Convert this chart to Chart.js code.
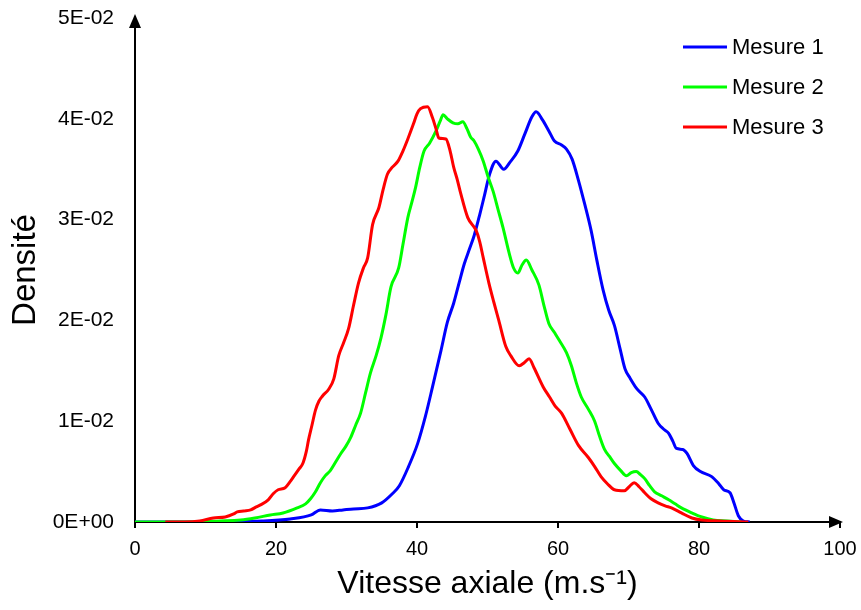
<!DOCTYPE html>
<html>
<head>
<meta charset="utf-8">
<script src="https://cdn.jsdelivr.net/npm/chart.js@4"></script>
<style>
  body { margin: 0; background: #fff; }
</style>
</head>
<body>
<canvas id="densiteGrafico" width="861" height="610"></canvas>
<script>
    const seriesNames = ['Mesure 1', 'Mesure 2', 'Mesure 3'];
    const seriesColors = ['#0000ff', '#00ff00', '#ff0000'];

    const yTickLabels = ['0E+00', '1E-02', '2E-02', '3E-02', '4E-02', '5E-02'];

    // Mesure 1
    const vitesse1 = [0, 10, 18, 22, 25, 26.3, 28, 29.5, 31, 33, 35, 36.5, 37.5, 38.8, 40.1, 41.2, 42.2, 43.4, 44.3, 45.2,
        46, 46.7, 47.4, 48.1, 48.9, 49.5, 50.3, 51.2, 52.3, 53.2, 54.3, 55.3, 56.3, 56.9, 57.8, 58.7, 59.5, 60.5, 61.2, 62,
        62.9, 63.8, 64.7, 65.5, 66.4, 67.2, 68, 68.8, 69.5, 70.2, 71.2, 72.3, 73.2, 74.2, 75, 75.7, 76.3, 76.8, 77.7, 78.3,
        79.2, 80.2, 81.8, 82.8, 83.5, 84.4, 85, 85.6, 86.3, 87.2];
    const densite1 = [0, 0, 0.0001, 0.0003, 0.0007, 0.0012, 0.0011, 0.0012, 0.0013, 0.0014, 0.0019, 0.0028, 0.0036, 0.0055, 0.0078, 0.0105, 0.0134, 0.017, 0.0198, 0.0217,
        0.0238, 0.0256, 0.027, 0.0284, 0.0305, 0.0322, 0.0345, 0.0358, 0.035, 0.0357, 0.0368, 0.0385, 0.0402, 0.0407, 0.0399, 0.0388, 0.0378, 0.0374, 0.037, 0.036,
        0.0339, 0.0315, 0.0289, 0.026, 0.023, 0.021, 0.0195, 0.0172, 0.0152, 0.0143, 0.0132, 0.0124, 0.0112, 0.0098, 0.0092, 0.0088, 0.008, 0.0073, 0.0072, 0.0068,
        0.0056, 0.005, 0.0045, 0.0038, 0.0032, 0.0029, 0.0018, 0.0006, 0.0001, 0];

    // Mesure 2
    const vitesse2 = [0, 8, 12, 15, 17, 19.2, 21, 23, 24.2, 24.9, 25.6, 26.3, 27, 27.7, 28.5, 29.2, 29.9, 30.6, 31.3, 32,
        32.7, 33.4, 34.2, 34.9, 35.6, 36.3, 37.4, 38, 38.7, 39.3, 39.8, 40.4, 41, 41.8, 42.7, 43.3, 43.7, 44.3, 45.1, 45.8,
        46.5, 47.1, 47.6, 48.1, 48.7, 49.4, 50.1, 50.8, 51.5, 52.2, 53.1, 53.7, 54.3, 54.9, 55.5, 56.3, 57.3, 58, 58.7, 59.5,
        60.2, 61.2, 61.9, 62.6, 63.3, 64.3, 65.2, 65.9, 66.6, 67.3, 68, 68.9, 69.7, 70.4, 71.1, 71.7, 72.3, 73, 73.7, 74.7,
        75.7, 76.6, 77.5, 79, 80.4, 82, 84, 86];
    const densite2 = [0, 0, 0.0001, 0.0002, 0.0004, 0.0007, 0.0009, 0.0014, 0.0018, 0.0023, 0.003, 0.0039, 0.0046, 0.0051, 0.006, 0.0068, 0.0075, 0.0084, 0.0096, 0.0108,
        0.0128, 0.0148, 0.0165, 0.0183, 0.0206, 0.0233, 0.0252, 0.0275, 0.0302, 0.0318, 0.0332, 0.0352, 0.0368, 0.0376, 0.0388, 0.0398, 0.0404, 0.04, 0.0396, 0.0395,
        0.0397, 0.039, 0.0382, 0.0378, 0.037, 0.0358, 0.0342, 0.0328, 0.031, 0.0292, 0.0266, 0.0252, 0.0247, 0.0255, 0.026, 0.025, 0.0235, 0.0215, 0.0197, 0.0188,
        0.018, 0.0168, 0.0155, 0.0138, 0.0124, 0.0112, 0.01, 0.0085, 0.0072, 0.0065, 0.0058, 0.0051, 0.0046, 0.0049, 0.005, 0.0047, 0.0043, 0.0036, 0.003, 0.0026,
        0.0022, 0.0018, 0.0014, 0.0009, 0.0005, 0.0002, 0.0001, 0];

    // Mesure 3
    const vitesse3 = [4.3, 7, 9.2, 11.1, 12.8, 14, 14.5, 15.4, 16.4, 17.2, 17.8, 18.9, 19.6, 20.3, 21.3, 22, 22.5, 23.2, 23.8, 24.3,
        24.6, 25.1, 25.6, 26.1, 26.6, 27.5, 28.2, 28.9, 29.6, 30.3, 31, 31.7, 32.4, 33, 33.7, 34.6, 35.2, 35.8, 36.5, 37.3,
        38, 38.7, 39.5, 40, 40.5, 41.5, 42.2, 42.7, 43.1, 44.1, 44.7, 45.2, 45.7, 46.2, 47.2, 48.4, 48.9, 49.4, 50.2, 50.9,
        51.6, 52.6, 53.3, 54.5, 55.2, 55.9, 56.6, 57.9, 58.8, 59.6, 60.5, 61.7, 62.9, 64.3, 65.2, 66.1, 67, 68, 69.4, 70.1,
        70.8, 71.5, 72.3, 73.2, 74.2, 75.2, 76.1, 77.5, 79, 80.4, 83, 87];
    const densite3 = [0, 0, 0.0001, 0.0004, 0.0005, 0.0008, 0.001, 0.0011, 0.0012, 0.0015, 0.0017, 0.0022, 0.0028, 0.0032, 0.0034, 0.004, 0.0045, 0.0052, 0.0058, 0.007,
        0.0081, 0.0096, 0.0111, 0.012, 0.0125, 0.0132, 0.0142, 0.0165, 0.0178, 0.0192, 0.0215, 0.0237, 0.0252, 0.0262, 0.0295, 0.0312, 0.033, 0.0345, 0.0352, 0.0358,
        0.0368, 0.038, 0.0395, 0.0405, 0.041, 0.0412, 0.0401, 0.039, 0.0381, 0.038, 0.0368, 0.0352, 0.034, 0.0326, 0.0302, 0.0289, 0.0278, 0.0262, 0.0237, 0.0218,
        0.02, 0.0174, 0.0165, 0.0155, 0.0158, 0.0162, 0.0153, 0.0134, 0.0124, 0.0115, 0.0108, 0.0092, 0.0076, 0.0064, 0.0055, 0.0045, 0.0038, 0.0032, 0.0031, 0.0035,
        0.0039, 0.0035, 0.0029, 0.0023, 0.0019, 0.0016, 0.0014, 0.0009, 0.0004, 0.0002, 0.0001, 0];

    const vitesses = [vitesse1, vitesse2, vitesse3];
    const densites = [densite1, densite2, densite3];

    const fonte = "'Liberation Sans', Arial, sans-serif";
    Chart.defaults.font.family = fonte;
    Chart.defaults.color = '#000';

    const datasets = seriesNames.map((nome, i) => ({
        label: nome,
        data: vitesses[i].map((v, j) => ({ x: v, y: densites[i][j] })),
        borderColor: seriesColors[i],
        backgroundColor: seriesColors[i],
        borderWidth: 3,
        pointRadius: 0,
        cubicInterpolationMode: 'monotone',
        fill: false,
        order: 3 - i
    }));

    // setas nos eixos + legenda
    const extras = {
        id: 'extras',
        afterDraw(chart) {
            const ctx = chart.ctx;
            const area = chart.chartArea;
            ctx.save();
            ctx.fillStyle = '#000';
            ctx.beginPath();
            ctx.moveTo(area.left, area.top - 4);
            ctx.lineTo(area.left - 6, area.top + 10);
            ctx.lineTo(area.left + 6, area.top + 10);
            ctx.closePath();
            ctx.fill();
            ctx.beginPath();
            ctx.moveTo(area.right + 3, area.bottom);
            ctx.lineTo(area.right - 11, area.bottom - 6);
            ctx.lineTo(area.right - 11, area.bottom + 6);
            ctx.closePath();
            ctx.fill();

            ctx.font = '22px ' + fonte;
            ctx.textBaseline = 'middle';
            ctx.lineWidth = 3;
            chart.data.datasets.forEach((ds, i) => {
                const y = 47 + i * 40;
                ctx.strokeStyle = ds.borderColor;
                ctx.beginPath();
                ctx.moveTo(683, y);
                ctx.lineTo(727, y);
                ctx.stroke();
                ctx.fillStyle = '#000';
                ctx.fillText(ds.label, 732, y + 1);
            });
            ctx.restore();
        }
    };

    const config = {
        type: 'line',
        data: { datasets: datasets },
        options: {
            responsive: false,
            animation: false,
            layout: { padding: { top: 18, right: 21, left: 0, bottom: 0 } },
            plugins: {
                legend: { display: false },
                tooltip: { enabled: false }
            },
            scales: {
                x: {
                    type: 'linear',
                    min: 0,
                    max: 100,
                    ticks: { stepSize: 20, padding: 9, font: { size: 20 } },
                    grid: { display: true, drawOnChartArea: false, drawTicks: true, tickLength: 6, color: '#000', lineWidth: 2 },
                    border: { display: true, color: '#000', width: 2 },
                    title: { display: true, text: 'Vitesse axiale (m.s⁻¹)', font: { size: 32 }, padding: { top: 0, bottom: 7 } },
                    afterFit(scale) {
                        scale.height = 88;
                        scale.paddingRight = 0;
                    }
                },
                y: {
                    min: 0,
                    max: 0.05,
                    ticks: {
                        stepSize: 0.01,
                        padding: 21,
                        font: { size: 21 },
                        callback: (v, i) => yTickLabels[i]
                    },
                    grid: { display: true, drawOnChartArea: false, drawTicks: false },
                    border: { display: true, color: '#000', width: 2 },
                    title: { display: true, text: 'Densité', font: { size: 33 }, padding: { top: 6, bottom: 0 } },
                    afterFit(scale) {
                        scale.width = 135;
                        scale.paddingTop = 0;
                    }
                }
            }
        },
        plugins: [extras]
    };

    const myChart = new Chart(
        document.getElementById('densiteGrafico'),
        config
    );
</script>
</body>
</html>
